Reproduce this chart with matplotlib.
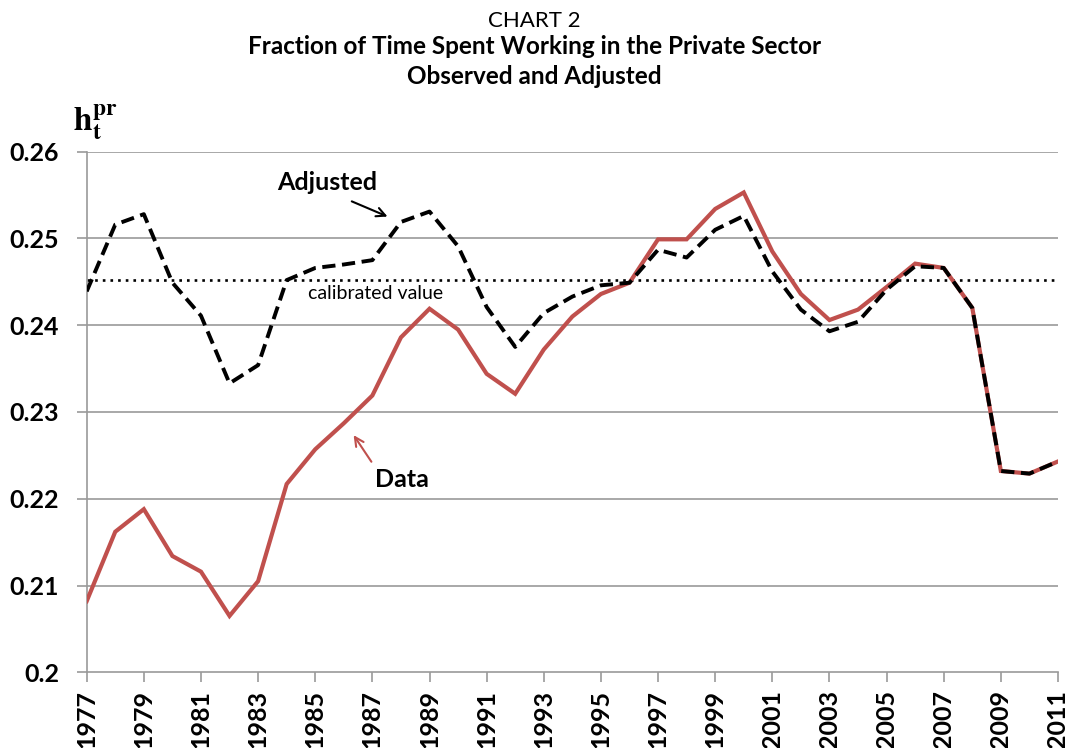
import numpy as np
import matplotlib.pyplot as plt

years = list(range(1977, 2012))
data = [0.2082, 0.2162, 0.2188, 0.2134, 0.2116, 0.2065, 0.2105, 0.2217, 0.2257, 0.2287,
        0.2319, 0.2386, 0.2419, 0.2395, 0.2344, 0.2321, 0.2372, 0.2410, 0.2436, 0.2449,
        0.2499, 0.2499, 0.2534, 0.2553, 0.2485, 0.2436, 0.2406, 0.2418, 0.2444, 0.2471,
        0.2466, 0.2420, 0.2232, 0.2229, 0.2243]
adjusted = [0.2439, 0.2516, 0.2528, 0.2449, 0.2411, 0.2333, 0.2354, 0.2452, 0.2466, 0.2470,
            0.2475, 0.2519, 0.2531, 0.2491, 0.2421, 0.2375, 0.2414, 0.2433, 0.2446, 0.2449,
            0.2487, 0.2478, 0.2510, 0.2526, 0.2462, 0.2418, 0.2393, 0.2404, 0.2441, 0.2468,
            0.2466, 0.2420, 0.2232, 0.2229, 0.2243]
calibrated = 0.2452
yticks = [0.2, 0.21, 0.22, 0.23, 0.24, 0.25, 0.26]
ytick_labels = ['0.2', '0.21', '0.22', '0.23', '0.24', '0.25', '0.26']
xticks = list(range(1977, 2012, 2))

plt.rcParams['font.family'] = ['Lato', 'DejaVu Sans']
plt.rcParams['mathtext.fontset'] = 'stix'

fig = plt.figure(figsize=(10.69, 7.48), dpi=100)
ax = fig.add_axes([0.0811, 0.1012, 0.9086, 0.696])

grid_col = '#9a9a9a'
for v in yticks[1:]:
    ax.axhline(v, color=grid_col, lw=1.2, zorder=1)
ax.axhline(calibrated, color='black', lw=1.9, ls=(0, (1, 1.9)), zorder=2)
ax.plot(years, data, color='#C0504D', lw=3.0, zorder=3, solid_joinstyle='miter')
ax.plot(years, adjusted, color='black', lw=2.8, ls=(0, (3.4, 1.7)), zorder=4)

ax.set_xlim(1977, 2011)
ax.set_ylim(0.2, 0.26)
ax.set_yticks(yticks)
ax.set_yticklabels(ytick_labels, fontsize=18, fontweight='bold')
ax.set_xticks(xticks)
ax.set_xticklabels([str(y) for y in xticks], rotation=90, fontsize=18, fontweight='bold')
for s in ['top', 'right']:
    ax.spines[s].set_visible(False)
ax.spines['left'].set_color(grid_col)
ax.spines['bottom'].set_color(grid_col)
ax.spines['left'].set_linewidth(1.2)
ax.spines['bottom'].set_linewidth(1.2)
ax.tick_params(axis='both', color=grid_col, length=7, width=1.2)
ax.tick_params(axis='y', pad=13)
ax.tick_params(axis='x', pad=6)

# annotations
ax.annotate('', xy=(1987.62, 0.2524), xytext=(1986.19, 0.2544),
            arrowprops=dict(arrowstyle='->', color='black', lw=1.5, mutation_scale=16))
ax.text(1985.4, 0.2564, 'Adjusted', fontsize=18, fontweight='bold', ha='center', va='center')
ax.text(1987.1, 0.2437, 'calibrated value', fontsize=14, ha='center', va='center')
ax.annotate('', xy=(1986.29, 0.2276), xytext=(1987.02, 0.2240),
            arrowprops=dict(arrowstyle='->', color='#C0504D', lw=1.5, mutation_scale=16))
ax.text(1988.03, 0.2222, 'Data', fontsize=18, fontweight='bold', ha='center', va='center')

fig.text(0.089, 0.837, r'$\mathbf{h_t^{pr}}$', fontsize=24, ha='center', va='center')

fig.text(0.5, 0.9635, 'CHART 2', fontsize=16, ha='center', va='baseline')
fig.text(0.5, 0.9278, 'Fraction of Time Spent Working in the Private Sector', fontsize=17.5,
         fontweight='bold', ha='center', va='baseline')
fig.text(0.5, 0.8873, 'Observed and Adjusted', fontsize=17.5, fontweight='bold',
         ha='center', va='baseline')

fig.savefig('out.png', dpi=100)
